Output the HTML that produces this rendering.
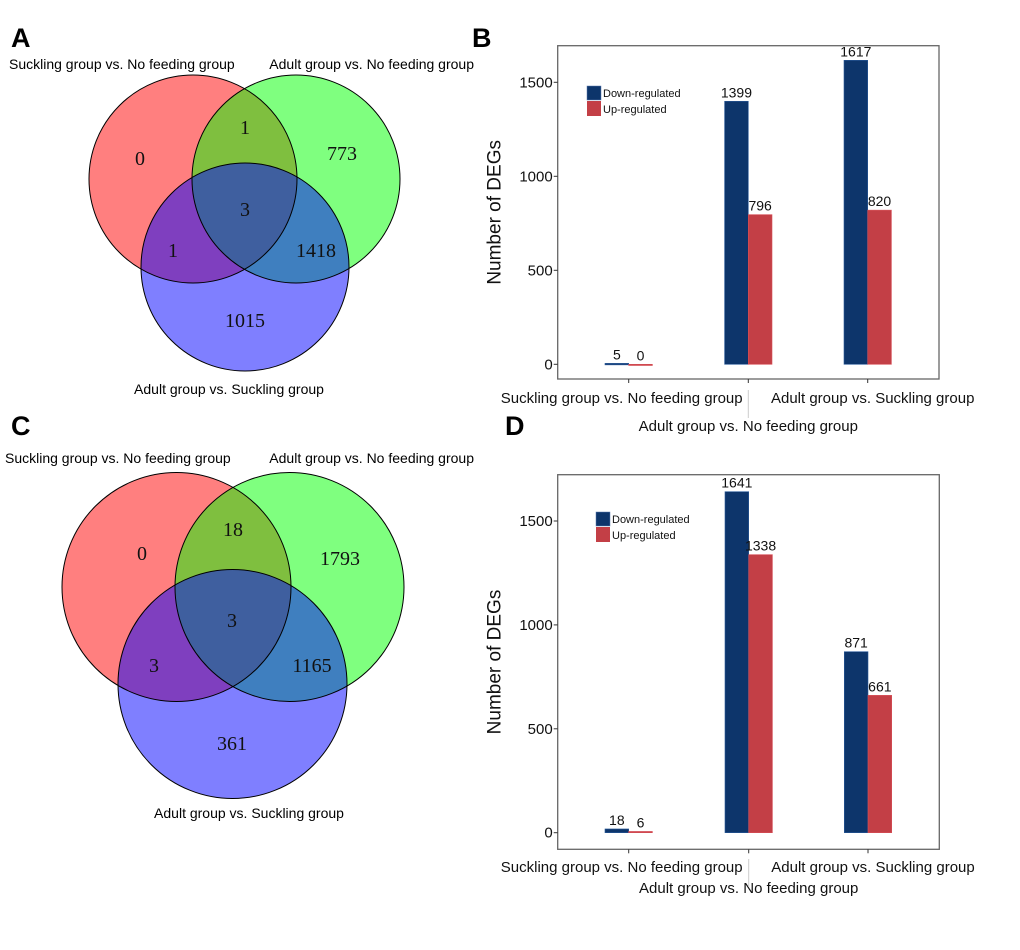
<!DOCTYPE html>
<html><head><meta charset="utf-8">
<style>
html,body{margin:0;padding:0;background:#fff;}
svg{display:block;font-family:"Liberation Sans",sans-serif;}
</style></head>
<body>
<svg id="fig" width="1020" height="950" viewBox="0 0 1020 950" xmlns="http://www.w3.org/2000/svg">
<g id="venns"></g>
<g id="bars"></g>
</svg>
<script>
const NS="http://www.w3.org/2000/svg";
const svg=document.getElementById('fig');
function mk(tag,attrs,parent,text){const e=document.createElementNS(NS,tag);for(const k in attrs)e.setAttribute(k,attrs[k]);if(text!==undefined)e.textContent=text;(parent||svg).appendChild(e);return e;}

// ---- Venn data ----
const setLabels=["Suckling group vs. No feeding group","Adult group vs. No feeding group","Adult group vs. Suckling group"];
const vennRegionsA=["0","773","1015","1","1","1418","3"]; // red only, green only, blue only, red∩green, red∩blue, green∩blue, all
const vennRegionsC=["0","1793","361","18","3","1165","3"];

// ---- Bar data ----
const categories=["Suckling group vs. No feeding group","Adult group vs. No feeding group","Adult group vs. Suckling group"];
const downB=[5,1399,1617];
const upB=[0,796,820];
const downD=[18,1641,871];
const upD=[6,1338,661];
const yTicks=[0,500,1000,1500];

// label placements (layout)
const posA=[[140,158],[342,153],[245,320],[245,127],[173,250],[316,250],[245,209]];
const posC=[[142,553],[340,558],[232,743],[233,529],[154,665],[312,665],[232,620]];

function panelLetter(t,x,y){
  const e=mk('text',{x:x,y:y,'font-size':27,'font-weight':'bold',fill:'#000'},svg,t);
  
  
}

function venn(g,cfg,regions,pos,letter){
  const {rx,ry,gx,gy,bx,by,r}=cfg;
  const grp=mk('g',{},g);
  
  
  const cols=[["#ff0000",rx,ry,"red"],["#00ff00",gx,gy,"green"],["#0000ff",bx,by,"blue"]];
  cols.forEach(c=>{
    const ci=mk('circle',{cx:c[1],cy:c[2],r:r,fill:c[0],'fill-opacity':0.5},grp);
    
    
  });
  cols.forEach(c=>{mk('circle',{cx:c[1],cy:c[2],r:r,fill:'none',stroke:'#000','stroke-width':1},grp);});
  regions.forEach((v,i)=>{
    const t=mk('text',{x:pos[i][0],y:pos[i][1]+7,'text-anchor':'middle','font-family':'"Liberation Serif",serif','font-size':20,fill:'#111'},grp,v);
    
    
  });
  return grp;
}

// Panel A
panelLetter('A',11,47);
venn(document.getElementById('venns'),{rx:193,ry:179,gx:296,gy:179,bx:245,by:267,r:104},vennRegionsA,posA,'a');
[[9,69,'start',0],[474,69,'end',1],[229,394,'middle',2]].forEach(p=>{
  const t=mk('text',{x:p[0],y:p[1],'text-anchor':p[2],'font-size':14,fill:'#000'},svg,setLabels[p[3]]);
  
  
});
// Panel C
panelLetter('C',11,435);
venn(document.getElementById('venns'),{rx:176.5,ry:587,gx:289.5,gy:587,bx:232.5,by:684,r:114.5},vennRegionsC,posC,'c');
[[5,463,'start',0],[474,463,'end',1],[249,818,'middle',2]].forEach(p=>{
  const t=mk('text',{x:p[0],y:p[1],'text-anchor':p[2],'font-size':14,fill:'#000'},svg,setLabels[p[3]]);
  
  
});

function barChart(cfg,down,up,letter){
  const g=mk('g',{},document.getElementById('bars'));
  
  
  const {x0,x1,top,bottom,zeroY,y1500,cx,legX,legY,lab1,lab2}=cfg;
  const y=v=>zeroY-(zeroY-y1500)*v/1500;
  const bw=23.7;
  const frame=mk('rect',{x:x0,y:top,width:x1-x0,height:bottom-top,fill:'#fff',stroke:'#666','stroke-width':1.3},g);
  
  
  yTicks.forEach(t=>{
    mk('line',{x1:x0-4,x2:x0,y1:y(t),y2:y(t),stroke:'#333'},g);
    const tl=mk('text',{x:x0-5,y:y(t)+5,'text-anchor':'end','font-size':15,fill:'#111'},g,String(t));
    
    
  });
  const yt=mk('text',{transform:`translate(${x0-57},${(top+bottom)/2}) rotate(-90)`,'text-anchor':'middle','font-size':19,fill:'#111'},g,'Number of DEGs');
  
  
  categories.forEach((c,i)=>{
    const X=cx[i];
    mk('line',{x1:X,x2:X,y1:bottom,y2:bottom+4,stroke:'#333'},g);
    const d=down[i],u=up[i];
    const bd=mk('rect',{x:X-bw,y:y(d),width:bw,height:Math.max(zeroY-y(d),1.5),fill:'#0d356b',stroke:'#2a5a9a','stroke-width':0.6},g);
    
    
    const bu=mk('rect',{x:X,y:y(u),width:bw,height:Math.max(zeroY-y(u),1.2),fill:'#c33f46',stroke:'#d85058','stroke-width':0.6},g);
    
    
    const ld=mk('text',{x:X-bw/2,y:y(d)-4,'text-anchor':'middle','font-size':14,fill:'#111'},g,String(d));
    
    
    const lu=mk('text',{x:X+bw/2,y:y(u)-4,'text-anchor':'middle','font-size':14,fill:'#111'},g,String(u));
    
    
  });
  const labs=[[cx[0]-7,lab1],[cx[1],lab2],[cx[2]+5,lab1]];
  categories.forEach((c,i)=>{
    const t=mk('text',{x:labs[i][0],y:labs[i][1],'text-anchor':'middle','font-size':15,fill:'#111'},g,c);
    
    
  });
  mk('line',{x1:cx[1],x2:cx[1],y1:lab1-13,y2:lab1+15,stroke:'#ccc','stroke-width':1},g);
  const lg=mk('g',{},g);
  
  
  mk('rect',{x:legX,y:legY,width:14,height:14,fill:'#0d356b',stroke:'#5a7ab0','stroke-width':0.5},lg);
  mk('rect',{x:legX,y:legY+15,width:14,height:15,fill:'#c33f46'},lg);
  const t1=mk('text',{x:legX+16,y:legY+11,'font-size':11,fill:'#111'},lg,'Down-regulated');
  
  
  const t2=mk('text',{x:legX+16,y:legY+27,'font-size':11,fill:'#111'},lg,'Up-regulated');
  
  
}
panelLetter('B',472,47);
barChart({x0:557.7,x1:939,top:45.7,bottom:379,zeroY:364.3,y1500:82.3,cx:[628.7,748.3,867.7],legX:587,legY:86,lab1:403,lab2:431},downB,upB,'b');
panelLetter('D',505,435);
barChart({x0:557.7,x1:939.3,top:474.7,bottom:849.3,zeroY:832.7,y1500:521,cx:[628.7,748.7,868],legX:596,legY:512,lab1:872,lab2:893},downD,upD,'d');
</script>
</body></html>
